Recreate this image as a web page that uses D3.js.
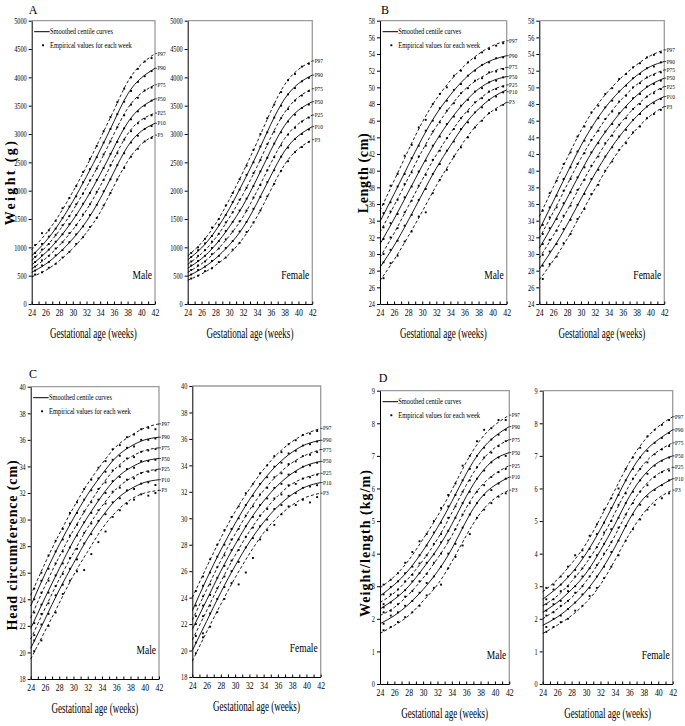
<!DOCTYPE html>
<html><head><meta charset="utf-8">
<script src="https://cdn.jsdelivr.net/npm/d3@7"></script>
<style>
body{margin:0;background:#fff}
svg{display:block}
text{font-family:"Liberation Serif","Times New Roman",serif;fill:#000}
</style>
</head><body>
<svg id="chart" width="685" height="726"></svg>
<script>
// ---------------- DATA ----------------
const knotWeeks = [24,26,28,30,32,34,36,38,40,42];
const dotWeeks = [24.5,25.5,26.5,27.5,28.5,29.5,30.5,31.5,32.5,33.5,34.5,35.5,36.5,37.5,38.5,39.5,40.5,41.5];
const weekTickLabels = [24,26,28,30,32,34,36,38,40,42];
const centiles = ["P97","P90","P75","P50","P25","P10","P3"];
const weightTicks = [0,500,1000,1500,2000,2500,3000,3500,4000,4500,5000];
const lengthTicks = [24,26,28,30,32,34,36,38,40,42,44,46,48,50,52,54,56,58];
const headTicks = [18,20,22,24,26,28,30,32,34,36,38,40];
const wlTicks = [0,1,2,3,4,5,6,7,8,9];

// Smoothed centile curves (P97, P90, P75, P50, P25, P10, P3) at knotWeeks
const weightMaleCurves = [
  [960,1230,1570,1980,2430,2920,3420,3920,4230,4420],
  [850,1100,1420,1810,2250,2720,3220,3700,3990,4160],
  [770,1000,1290,1650,2060,2510,3000,3450,3720,3870],
  [690,900,1160,1480,1860,2290,2760,3200,3470,3620],
  [620,800,1030,1310,1660,2080,2560,3000,3250,3370],
  [560,700,900,1150,1460,1860,2330,2780,3050,3190],
  [480,590,760,980,1260,1620,2080,2520,2820,2980]
];
const weightMaleDots = [
  [1040,1250,1300,1470,1690,1870,2080,2330,2560,2790,3050,3300,3560,3800,4000,4150,4280,4340],
  [900,1060,1190,1330,1520,1720,1900,2150,2380,2590,2850,3090,3350,3570,3760,3920,4020,4110],
  [830,960,1060,1220,1390,1550,1760,1950,2180,2390,2640,2870,3120,3330,3520,3640,3770,3820],
  [740,860,960,1100,1230,1410,1570,1770,1960,2190,2400,2650,2860,3100,3260,3400,3500,3590],
  [660,770,850,980,1090,1250,1390,1580,1760,1980,2190,2450,2660,2900,3050,3190,3270,3330],
  [590,680,740,860,950,1090,1230,1370,1570,1750,1990,2200,2450,2660,2850,2970,3090,3140],
  [520,560,640,710,820,920,1060,1180,1360,1520,1740,1960,2200,2400,2600,2740,2870,2930]
];
const weightFemaleCurves = [
  [850,1080,1410,1840,2330,2850,3400,3870,4140,4290],
  [780,990,1290,1680,2140,2640,3170,3620,3890,4040],
  [700,890,1160,1520,1940,2420,2940,3380,3650,3800],
  [630,800,1040,1360,1740,2210,2710,3150,3420,3570],
  [560,710,920,1200,1540,1990,2480,2920,3180,3335],
  [490,620,800,1040,1350,1780,2260,2700,2970,3130],
  [420,530,680,880,1160,1540,2010,2460,2740,2900]
];
const weightFemaleDots = [
  [900,1000,1150,1350,1500,1740,1960,2200,2440,2720,3000,3280,3520,3740,3950,4060,4190,4240],
  [830,950,1070,1200,1400,1570,1800,2020,2280,2500,2780,3030,3290,3500,3700,3810,3930,3990],
  [750,850,950,1100,1240,1440,1620,1840,2050,2310,2540,2820,3040,3280,3440,3590,3680,3760],
  [680,760,850,990,1110,1290,1450,1650,1860,2080,2340,2580,2830,3030,3220,3340,3460,3520],
  [600,680,750,880,980,1140,1280,1460,1650,1880,2100,2360,2590,2800,2990,3110,3220,3290],
  [520,600,660,760,850,990,1110,1280,1450,1680,1890,2150,2360,2600,2760,2910,3000,3080],
  [450,500,580,630,740,820,960,1080,1270,1440,1650,1900,2120,2350,2520,2680,2770,2860]
];
const lengthMaleCurves = [
  [35.2,38.8,42.4,45.8,48.6,50.8,52.6,54.0,55.0,55.6],
  [33.9,37.2,40.6,43.9,46.8,49.1,51.0,52.4,53.3,53.8],
  [32.6,35.8,39.1,42.4,45.3,47.7,49.7,51.0,51.9,52.4],
  [31.2,34.2,37.4,40.6,43.6,46.1,48.2,49.8,50.8,51.3],
  [29.6,32.5,35.7,38.9,41.9,44.5,46.8,48.5,49.7,50.3],
  [28.4,31.0,34.0,37.2,40.3,43.0,45.5,47.4,48.8,49.7],
  [26.8,29.3,32.1,35.1,38.2,41.0,43.6,45.7,47.2,48.2]
];
const lengthMaleDots = [
  [36.0,38.2,39.6,41.8,43.1,45.2,46.1,48.0,49.2,50.0,51.4,52.0,53.0,53.5,54.2,54.6,55.0,55.3],
  [34.9,36.2,38.1,39.6,41.5,43.0,44.8,46.0,47.5,48.4,49.7,50.4,51.4,52.0,52.7,53.0,53.5,53.6],
  [33.2,35.1,36.5,38.4,39.8,41.7,43.0,44.7,45.8,47.2,48.1,49.3,49.9,50.8,51.1,51.8,51.9,52.2],
  [31.8,33.7,34.8,36.8,38.1,39.9,41.2,43.0,44.1,45.6,46.5,47.8,48.5,49.5,49.9,50.6,50.8,51.2],
  [30.0,32.0,33.1,35.0,36.4,38.2,39.5,41.3,42.4,43.9,45.0,46.3,47.1,48.2,48.7,49.5,49.8,50.1],
  [29.0,30.5,31.6,33.4,34.7,36.5,37.8,39.6,40.8,42.4,43.5,45.0,45.8,47.0,47.6,48.5,48.9,49.4],
  [27.1,28.9,29.8,31.5,32.7,34.5,35.0,37.3,38.9,40.1,41.7,42.8,44.0,45.2,46.0,46.9,47.3,47.9]
];
const lengthFemaleCurves = [
  [34.5,38.0,41.5,44.8,47.5,49.6,51.3,52.7,53.8,54.5],
  [32.9,36.3,39.7,43.0,45.8,48.1,49.9,51.4,52.5,53.1],
  [31.9,35.0,38.3,41.5,44.3,46.7,48.7,50.3,51.4,52.1],
  [30.7,33.6,36.7,39.9,42.8,45.2,47.3,49.0,50.3,51.1],
  [29.5,32.2,35.2,38.3,41.2,43.8,46.0,47.8,49.2,50.1],
  [28.2,30.7,33.5,36.6,39.6,42.3,44.6,46.5,48.0,48.9],
  [26.9,29.2,31.8,34.8,37.8,40.6,43.0,45.0,46.6,47.7]
];
const lengthFemaleDots = [
  [35.2,37.3,38.8,40.8,42.2,44.1,45.3,47.0,47.8,49.2,49.9,51.0,51.6,52.4,52.9,53.6,53.9,54.2],
  [33.5,35.6,37.0,39.0,40.4,42.3,43.6,45.2,46.3,47.6,48.4,49.5,50.2,51.1,51.6,52.3,52.5,53.0],
  [32.4,34.4,35.6,37.6,39.0,40.8,42.1,43.7,44.8,46.2,47.1,48.3,49.0,50.0,50.5,51.2,51.5,51.8],
  [31.2,33.1,34.2,36.1,37.4,39.2,40.4,42.2,43.3,44.7,45.6,46.9,47.6,48.7,49.2,50.1,50.4,50.8],
  [29.9,31.7,32.8,34.6,35.8,37.7,38.9,40.6,41.7,43.3,44.2,45.5,46.3,47.4,48.0,48.9,49.3,49.8],
  [28.6,30.3,31.2,33.0,34.1,35.9,37.2,39.0,40.1,41.7,42.8,44.1,44.9,46.1,46.8,47.7,48.1,48.6],
  [27.0,28.8,29.7,31.3,32.4,34.2,35.4,37.2,38.3,40.0,41.1,42.5,43.3,44.6,45.3,46.3,46.8,47.3]
];
const headMaleCurves = [
  [24.3,26.7,28.9,30.9,32.7,34.2,35.5,36.3,36.9,37.2],
  [23.5,25.9,28.1,30.1,31.9,33.4,34.7,35.5,36.0,36.2],
  [22.6,25.0,27.2,29.2,31.0,32.6,33.9,34.7,35.2,35.4],
  [21.8,24.1,26.3,28.4,30.2,31.8,33.1,33.9,34.4,34.6],
  [21.0,23.3,25.5,27.5,29.4,31.0,32.3,33.1,33.6,33.8],
  [20.3,22.5,24.7,26.7,28.6,30.2,31.5,32.3,32.8,33.0],
  [19.5,21.6,23.7,25.8,27.6,29.3,30.6,31.5,32.0,32.2]
];
const headMaleDots = [
  [24.8,26.0,27.3,28.4,29.3,30.5,31.3,32.3,33.0,33.9,34.4,35.3,35.6,36.2,36.4,36.8,36.9,36.8],
  [24.0,25.4,26.3,27.6,28.5,29.7,30.5,31.5,32.2,33.1,33.6,34.5,34.8,35.4,35.5,36.0,36.0,36.1],
  [23.0,24.5,25.4,26.7,27.6,28.8,29.6,30.6,31.3,32.3,32.8,33.7,34.0,34.6,34.7,35.1,35.2,35.3],
  [22.2,23.6,24.5,25.8,26.7,27.9,28.8,29.8,30.5,31.5,32.0,32.9,33.2,33.8,33.9,34.4,34.4,34.5],
  [21.3,22.9,23.7,25.0,25.9,27.1,27.8,29.0,29.7,30.7,31.2,32.1,32.4,33.0,33.1,33.5,33.6,33.7],
  [20.9,22.1,22.9,24.3,25.1,26.3,27.0,28.2,28.9,29.9,30.4,31.3,31.6,32.2,32.3,32.7,32.8,32.6],
  [20.1,20.9,22.0,23.0,24.4,25.4,26.1,26.2,27.4,28.3,29.1,30.2,30.7,31.2,31.5,31.9,31.8,32.0]
];
const headFemaleCurves = [
  [24.0,26.3,28.5,30.5,32.2,33.7,34.9,35.8,36.4,36.8],
  [23.0,25.4,27.6,29.6,31.4,32.9,34.1,35.0,35.6,35.9],
  [22.3,24.6,26.8,28.8,30.6,32.1,33.3,34.2,34.8,35.2],
  [21.6,23.8,26.0,28.0,29.8,31.3,32.5,33.4,34.0,34.3],
  [20.8,23.0,25.2,27.2,29.0,30.5,31.7,32.6,33.1,33.4],
  [20.0,22.2,24.4,26.4,28.2,29.7,30.9,31.8,32.4,32.7],
  [19.2,21.4,23.5,25.5,27.3,28.9,30.1,31.0,31.6,31.9]
];
const headFemaleDots = [
  [24.5,25.6,26.9,28.0,29.1,30.1,30.9,31.9,32.6,33.4,34.0,34.7,35.0,35.6,35.9,36.3,36.4,36.6],
  [23.4,24.9,25.9,27.1,28.0,29.2,30.0,31.0,31.7,32.6,33.1,33.9,34.2,34.9,35.1,35.5,35.6,35.8],
  [22.6,24.1,25.0,26.3,27.2,28.4,29.2,30.2,30.9,31.8,32.3,33.1,33.4,34.1,34.3,34.7,34.8,35.0],
  [22.0,23.4,24.2,25.5,26.4,27.6,28.4,29.4,30.1,31.0,31.5,32.3,32.6,33.3,33.5,33.9,34.0,34.2],
  [21.1,22.6,23.4,24.7,25.6,26.8,27.6,28.6,29.3,30.2,30.7,31.5,31.8,32.5,32.6,33.0,33.1,33.3],
  [20.6,21.3,22.8,23.9,24.8,26.0,26.7,27.8,28.5,29.4,29.9,30.7,31.0,31.7,31.9,32.3,32.4,32.5],
  [19.8,21.0,21.8,22.9,23.9,25.1,25.0,25.9,27.0,28.4,29.1,29.5,30.3,30.9,31.0,31.4,31.2,31.6]
];
const wlMaleCurves = [
  [2.95,3.3,3.8,4.45,5.15,5.95,6.8,7.5,7.95,8.25],
  [2.7,3.05,3.5,4.1,4.8,5.6,6.45,7.15,7.6,7.9],
  [2.5,2.8,3.25,3.8,4.45,5.25,6.1,6.8,7.25,7.5],
  [2.3,2.6,3.0,3.55,4.15,4.9,5.75,6.45,6.9,7.1],
  [2.1,2.35,2.75,3.25,3.85,4.55,5.4,6.05,6.45,6.7],
  [1.85,2.1,2.45,2.9,3.45,4.15,5.0,5.7,6.1,6.35],
  [1.55,1.8,2.1,2.55,3.05,3.75,4.55,5.25,5.7,5.95]
];
const wlMaleDots = [
  [3.05,3.2,3.4,3.72,4.05,4.38,4.6,5.0,5.4,5.8,6.15,6.7,7.0,7.45,7.8,7.85,8.1,8.1],
  [2.75,2.98,3.15,3.4,3.6,3.95,4.25,4.65,4.95,5.45,5.8,6.25,6.6,7.0,7.25,7.5,7.65,7.8],
  [2.45,2.75,2.9,3.15,3.35,3.7,3.95,4.3,4.6,5.1,5.45,5.9,6.25,6.65,6.95,7.1,7.3,7.45],
  [2.35,2.5,2.72,2.88,3.15,3.4,3.72,3.98,4.35,4.7,5.1,5.55,5.9,6.3,6.55,6.8,6.95,7.0],
  [2.2,2.25,2.45,2.68,2.85,3.15,3.38,3.72,4.0,4.4,4.75,5.2,5.55,5.9,6.1,6.35,6.5,6.6],
  [1.85,2.1,2.2,2.4,2.55,2.8,3.1,3.3,3.6,4.0,4.3,4.8,5.2,5.55,5.8,5.95,6.15,6.3],
  [1.65,1.75,1.9,2.05,2.2,2.4,2.72,2.95,3.05,3.55,3.9,4.25,4.6,5.1,5.35,5.55,5.75,5.85]
];
const wlFemaleCurves = [
  [2.83,3.2,3.7,4.3,5.1,5.95,6.8,7.45,7.9,8.2],
  [2.6,2.95,3.4,4.0,4.75,5.6,6.45,7.1,7.5,7.8],
  [2.4,2.7,3.15,3.7,4.4,5.25,6.1,6.75,7.15,7.4],
  [2.2,2.5,2.9,3.4,4.1,4.9,5.75,6.4,6.8,7.0],
  [2.0,2.3,2.65,3.15,3.8,4.55,5.4,6.05,6.45,6.65],
  [1.8,2.05,2.4,2.85,3.45,4.2,5.05,5.7,6.05,6.3],
  [1.55,1.8,2.1,2.5,3.05,3.8,4.6,5.25,5.7,5.95]
];
const wlFemaleDots = [
  [2.95,3.05,3.3,3.6,3.95,4.1,4.55,4.9,5.35,5.7,6.0,6.6,6.95,7.25,7.6,7.8,7.95,8.1],
  [2.6,2.9,3.05,3.3,3.5,3.9,4.15,4.6,4.95,5.4,5.8,6.25,6.6,6.95,7.15,7.4,7.55,7.7],
  [2.45,2.6,2.85,3.0,3.3,3.55,3.9,4.2,4.65,5.0,5.5,5.85,6.3,6.6,6.8,7.05,7.2,7.3],
  [2.25,2.45,2.55,2.85,3.0,3.3,3.55,3.95,4.3,4.75,5.1,5.55,5.9,6.25,6.45,6.7,6.85,6.95],
  [2.1,2.2,2.4,2.55,2.8,3.0,3.3,3.65,4.0,4.35,4.8,5.2,5.55,5.9,6.1,6.35,6.5,6.55],
  [1.75,2.0,2.1,2.3,2.5,2.75,2.95,3.3,3.6,4.05,4.4,4.85,5.2,5.5,5.75,5.95,6.1,6.25],
  [1.6,1.75,1.9,2.0,2.25,2.4,2.7,2.95,3.25,3.6,3.95,4.4,4.75,5.05,5.35,5.5,5.7,5.85]
];

// ---------------- DRAWING ----------------
const svg = d3.select("#chart");

// horizontally condense a text by factor f using a transform (keeps its anchor position)
function squeeze(sel, f) {
  sel.each(function () {
    const t = d3.select(this);
    const x = +t.attr("x") || 0;
    t.attr("x", x / f).attr("transform", `scale(${f},1)`);
  });
}
// condense so that the rendered width equals w
function squeezeTo(sel, w) {
  sel.each(function () {
    const L = this.getComputedTextLength();
    if (L > 0) squeeze(d3.select(this), w / L);
  });
}

function drawPanel(cfg) {
  const { x0, x1, y0, y1, domain, ticks, curves, dots, sex, legend } = cfg;
  const x = d3.scaleLinear().domain([24, 42]).range([x0, x1]);
  const y = d3.scaleLinear().domain(domain).range([y1, y0]);
  const g = svg.append("g");

  // frame (top/right lighter)
  g.append("path")
    .attr("d", `M${x0},${y0}H${x1}V${y1}`)
    .attr("fill", "none").attr("stroke", "#9c9c9c").attr("stroke-width", 1.3);

  // curves
  const line = d3.line().x((d, i) => x(knotWeeks[i])).y(d => y(d)).curve(d3.curveNatural);
  curves.forEach((c, k) => {
    g.append("path")
      .attr("d", line(c))
      .attr("fill", "none")
      .attr("stroke", "#000")
      .attr("stroke-width", 0.9)
      .attr("stroke-dasharray", k % 2 === 0 ? "3,2.2" : null);
  });

  // empirical dots
  dots.forEach(arr => {
    g.append("g").selectAll("rect").data(arr).join("rect")
      .attr("x", (d, i) => x(dotWeeks[i]) - 0.95)
      .attr("y", d => y(d) - 0.95)
      .attr("width", 1.9).attr("height", 1.9)
      .attr("fill", "#000");
  });

  // y axis
  const ya = g.append("g").attr("transform", `translate(${x0},0)`)
    .call(d3.axisLeft(y).tickValues(ticks).tickSize(3).tickSizeOuter(0).tickPadding(2).tickFormat(d3.format("d")));
  ya.attr("font-family", null);
  ya.select(".domain").attr("stroke", "#000").attr("stroke-width", 1);
  ya.selectAll(".tick line").attr("stroke", "#000");
  ya.selectAll(".tick text").attr("font-size", 8.5).call(squeeze, 0.74);

  // x axis with inward ticks each week
  const xa = g.append("g").attr("transform", `translate(0,${y1})`)
    .call(d3.axisBottom(x).tickValues(d3.range(24, 43, 1)).tickSize(-2.5).tickSizeOuter(0).tickPadding(6)
      .tickFormat(d => weekTickLabels.includes(d) ? d : ""));
  xa.attr("font-family", null);
  xa.select(".domain").attr("stroke", "#000").attr("stroke-width", 1);
  xa.selectAll(".tick line").attr("stroke", "#000");
  xa.selectAll(".tick text").attr("font-size", 10.5).attr("dy", "0.6em").call(squeeze, 0.74);

  // x axis title
  g.append("text")
    .attr("x", (x0 + x1) / 2).attr("y", y1 + 34)
    .attr("text-anchor", "middle").attr("font-size", 14)
    .text("Gestational age (weeks)").call(squeezeTo, 87);

  // right-side ticks and centile labels
  let prev = -Infinity;
  curves.forEach((c, k) => {
    let yy = y(c[c.length - 1]);
    if (yy < prev + 6.9) yy = prev + 6.9;
    prev = yy;
    g.append("line").attr("x1", x1).attr("x2", x1 + 2).attr("y1", yy).attr("y2", yy)
      .attr("stroke", "#000").attr("stroke-width", 0.7);
    g.append("text").attr("x", x1 + 2.4).attr("y", yy + 2.1)
      .attr("font-size", 6.6).text(centiles[k]).call(squeeze, 0.8);
  });

  // sex label
  g.append("text").attr("x", x1 - 3).attr("y", y1 - 25)
    .attr("text-anchor", "end").attr("font-size", 12.5).text(sex).call(squeeze, 0.76);

  // legend
  if (legend) {
    const ly = y0 + 11;
    g.append("line").attr("x1", x0 + 2.5).attr("x2", x0 + 18).attr("y1", ly).attr("y2", ly)
      .attr("stroke", "#000").attr("stroke-width", 1);
    g.append("text").attr("x", x0 + 18.3).attr("y", ly + 2.8).attr("font-size", 8.5)
      .text("Smoothed centile curves").call(squeezeTo, 63);
    g.append("rect").attr("x", x0 + 10.4).attr("y", ly + 12.6).attr("width", 1.9).attr("height", 1.9).attr("fill", "#000");
    g.append("text").attr("x", x0 + 18.3).attr("y", ly + 16.3).attr("font-size", 8.5)
      .text("Empirical values for each week").call(squeezeTo, 82);
  }
}

const panels = [
  { x0: 31.7, x1: 155, y0: 20.7, y1: 304, domain: [0, 5000], ticks: weightTicks, curves: weightMaleCurves, dots: weightMaleDots, sex: "Male", legend: true },
  { x0: 187.7, x1: 312.3, y0: 20.7, y1: 304, domain: [0, 5000], ticks: weightTicks, curves: weightFemaleCurves, dots: weightFemaleDots, sex: "Female", legend: false },
  { x0: 380, x1: 506.7, y0: 20.7, y1: 304, domain: [24, 58], ticks: lengthTicks, curves: lengthMaleCurves, dots: lengthMaleDots, sex: "Male", legend: true },
  { x0: 539.3, x1: 664.3, y0: 20.7, y1: 304, domain: [24, 58], ticks: lengthTicks, curves: lengthFemaleCurves, dots: lengthFemaleDots, sex: "Female", legend: false },
  { x0: 30.7, x1: 159, y0: 386.7, y1: 679, domain: [18, 40], ticks: headTicks, curves: headMaleCurves, dots: headMaleDots, sex: "Male", legend: true },
  { x0: 192.3, x1: 320.7, y0: 386, y1: 677, domain: [18, 40], ticks: headTicks, curves: headFemaleCurves, dots: headFemaleDots, sex: "Female", legend: false },
  { x0: 380, x1: 509.3, y0: 390.7, y1: 684, domain: [0, 9], ticks: wlTicks, curves: wlMaleCurves, dots: wlMaleDots, sex: "Male", legend: true },
  { x0: 542.7, x1: 672.7, y0: 390.7, y1: 684, domain: [0, 9], ticks: wlTicks, curves: wlFemaleCurves, dots: wlFemaleDots, sex: "Female", legend: false }
];
panels.forEach(drawPanel);

// panel letters
[["A", 33, 14], ["B", 385, 14], ["C", 33, 378], ["D", 383, 382]].forEach(([t, px, py]) => {
  svg.append("text").attr("x", px).attr("y", py).attr("text-anchor", "middle").attr("font-size", 12).text(t);
});

// y axis titles (bold, letter-spaced to the reference length)
[["Weight (g)", 10.5, 182, 84], ["Length (cm)", 363.5, 173, 80], ["Head circumference (cm)", 12, 545, 170], ["Weight/length (kg/m)", 365.5, 543, 147]]
  .forEach(([t, cx, cy, w]) => {
    const tx = svg.append("text").attr("transform", `translate(${cx},${cy}) rotate(-90)`)
      .attr("text-anchor", "middle").attr("dy", "0.35em")
      .attr("font-size", 14).attr("font-weight", "bold")
      .text(t);
    const L = tx.node().getComputedTextLength();
    const n = t.length;
    if (L < w && n > 1) tx.attr("letter-spacing", ((w - L) / (n - 1)).toFixed(2));
  });
</script>
</body></html>
